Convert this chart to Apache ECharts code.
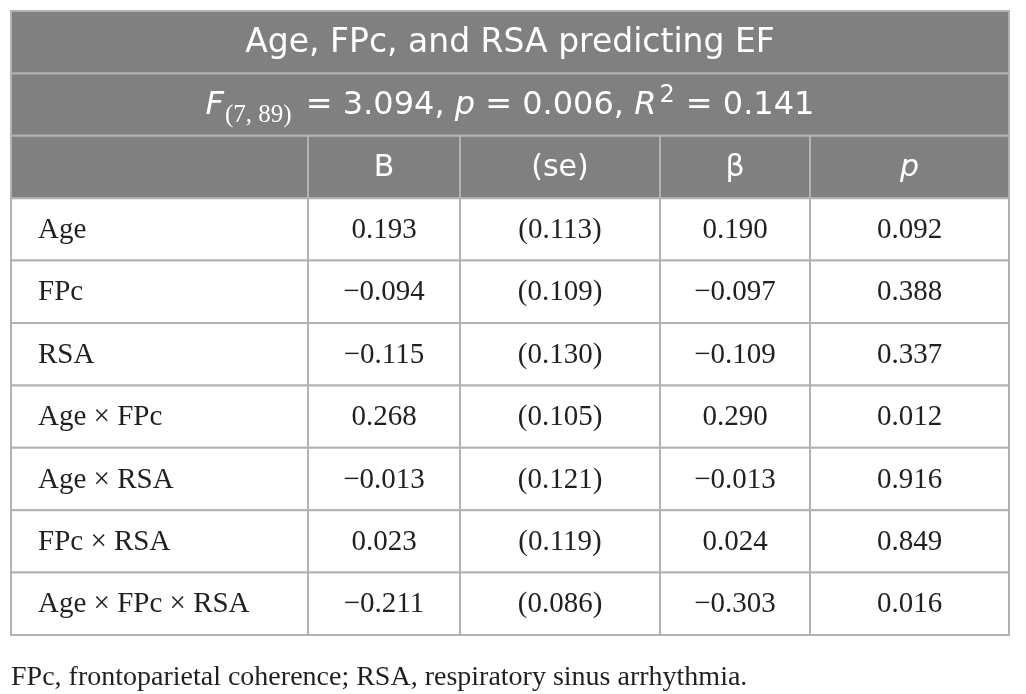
<!DOCTYPE html>
<html>
<head>
    <meta charset="utf-8" />
    <title>Age, FPc, and RSA predicting EF</title>
    <script type="text/javascript" src="https://cdn.jsdelivr.net/npm/echarts@6/dist/echarts.min.js"></script>
    <style>
        html, body { margin: 0; height: 100%; background: #fff; }
        #main { width: 1026px; height: 694px; }
    </style>
</head>
<body>
    <div id="main"></div>
    <script type="text/javascript">
        // table content
        var tableTitle = 'Age, FPc, and RSA predicting EF';
        var modelDf = [7, 89];
        var modelF = 3.094;
        var modelP = 0.006;
        var modelR2 = 0.141;
        var columnHeaders = ['', 'B', '(se)', 'β', 'p'];
        var terms = ['Age', 'FPc', 'RSA', 'Age × FPc', 'Age × RSA', 'FPc × RSA', 'Age × FPc × RSA'];
        var bValues = [0.193, -0.094, -0.115, 0.268, -0.013, 0.023, -0.211];
        var seValues = [0.113, 0.109, 0.130, 0.105, 0.121, 0.119, 0.086];
        var betaValues = [0.190, -0.097, -0.109, 0.290, -0.013, 0.024, -0.303];
        var pValues = [0.092, 0.388, 0.337, 0.012, 0.916, 0.849, 0.016];
        var footnote = 'FPc, frontoparietal coherence; RSA, respiratory sinus arrhythmia.';

        // layout: column edges in table units (px wide)
        var colEdges = [0, 297, 449, 649, 799, 998];
        var HEAD_BG = '#808080';
        var LINE = '#b2b2b2';
        var SANS = '"DejaVu Sans", sans-serif';
        var SERIF = '"Liberation Serif", "DejaVu Serif", serif';
        var INK = '#231f20';

        function fmt(v) {
            var s = Math.abs(v).toFixed(3);
            return v < 0 ? '\u2212' + s : s;
        }

        // cells: [colStart, colEnd, row, kind, text]
        var cells = [];
        cells.push([0, 5, 0, 'title', tableTitle]);
        cells.push([0, 5, 1, 'stats',
            '{i|F}{sub|(' + modelDf[0] + ', ' + modelDf[1] + ')}{n| = ' + fmt(modelF) +
            ', }{i|p}{n| = ' + fmt(modelP) + ', }{i|R}{sup|2}{n| = ' + fmt(modelR2) + '}']);
        columnHeaders.forEach(function (h, c) {
            cells.push([c, c + 1, 2, c === 4 ? 'headItalic' : 'head', h]);
        });
        terms.forEach(function (t, i) {
            var r = 3 + i;
            cells.push([0, 1, r, 'term', t]);
            cells.push([1, 2, r, 'num', fmt(bValues[i])]);
            cells.push([2, 3, r, 'num', '(' + fmt(seValues[i]) + ')']);
            cells.push([3, 4, r, 'num', fmt(betaValues[i])]);
            cells.push([4, 5, r, 'num', fmt(pValues[i])]);
        });

        function renderCell(params, api) {
            var c0 = api.value(0), c1 = api.value(1), r = api.value(2);
            var kind = cells[params.dataIndex][3];
            var text = cells[params.dataIndex][4];
            var p0 = api.coord([colEdges[c0], r]);
            var p1 = api.coord([colEdges[c1], r + 1]);
            var x = p0[0], y = p0[1], w = p1[0] - p0[0], h = p1[1] - p0[1];
            var isHead = kind === 'title' || kind === 'stats' || kind === 'head' || kind === 'headItalic';
            var textStyle;
            if (kind === 'term') {
                textStyle = { x: x + 27, y: y + h / 2 + 1, text: text, align: 'left', verticalAlign: 'middle',
                    fontFamily: SERIF, fontSize: 29, fill: INK };
            } else if (kind === 'num') {
                textStyle = { x: x + w / 2, y: y + h / 2 + 1, text: text, align: 'center', verticalAlign: 'middle',
                    fontFamily: SERIF, fontSize: 29, fill: INK };
            } else if (kind === 'stats') {
                textStyle = {
                    x: x + w / 2, y: y + h / 2 + 1, text: text, align: 'center', verticalAlign: 'middle',
                    rich: {
                        n: { fontFamily: SANS, fontSize: 32, fill: '#fff', lineHeight: 44 },
                        i: { fontFamily: SANS, fontSize: 32, fontStyle: 'italic', fill: '#fff', lineHeight: 44 },
                        sub: { fontFamily: SERIF, fontSize: 25, fill: '#fff', lineHeight: 33, verticalAlign: 'bottom',
                            padding: [0, 4, 0, 1] },
                        sup: { fontFamily: SANS, fontSize: 24, fill: '#fff', lineHeight: 36, verticalAlign: 'top',
                            padding: [0, 1, 0, 3] }
                    }
                };
            } else {
                textStyle = { x: x + w / 2, y: y + h / 2 + 1, text: text, align: 'center', verticalAlign: 'middle',
                    fontFamily: SANS, fontSize: kind === 'title' ? 33 : 30, fill: '#fff',
                    fontStyle: kind === 'headItalic' ? 'italic' : 'normal' };
            }
            return {
                type: 'group',
                children: [{
                    type: 'rect',
                    shape: { x: x, y: y, width: w, height: h },
                    style: { fill: isHead ? HEAD_BG : '#fff', stroke: LINE, lineWidth: 2 }
                }, {
                    type: 'text',
                    style: textStyle
                }]
            };
        }

        var option = {
            animation: false,
            title: {
                text: footnote,
                left: 6,
                top: 659,
                textStyle: { fontFamily: SERIF, fontSize: 28, fontWeight: 'normal', color: INK }
            },
            grid: { left: 11, right: 17, top: 11, bottom: 59 },
            xAxis: { type: 'value', min: 0, max: 998, show: false },
            yAxis: { type: 'value', min: 0, max: 10, inverse: true, show: false },
            series: [{
                type: 'custom',
                renderItem: renderCell,
                data: cells.map(function (c) { return [c[0], c[1], c[2]]; }),
                encode: { x: [0, 1], y: 2 },
                clip: false
            }]
        };

        var myChart = echarts.init(document.getElementById('main'));
        myChart.setOption(option);
    </script>
</body>
</html>
